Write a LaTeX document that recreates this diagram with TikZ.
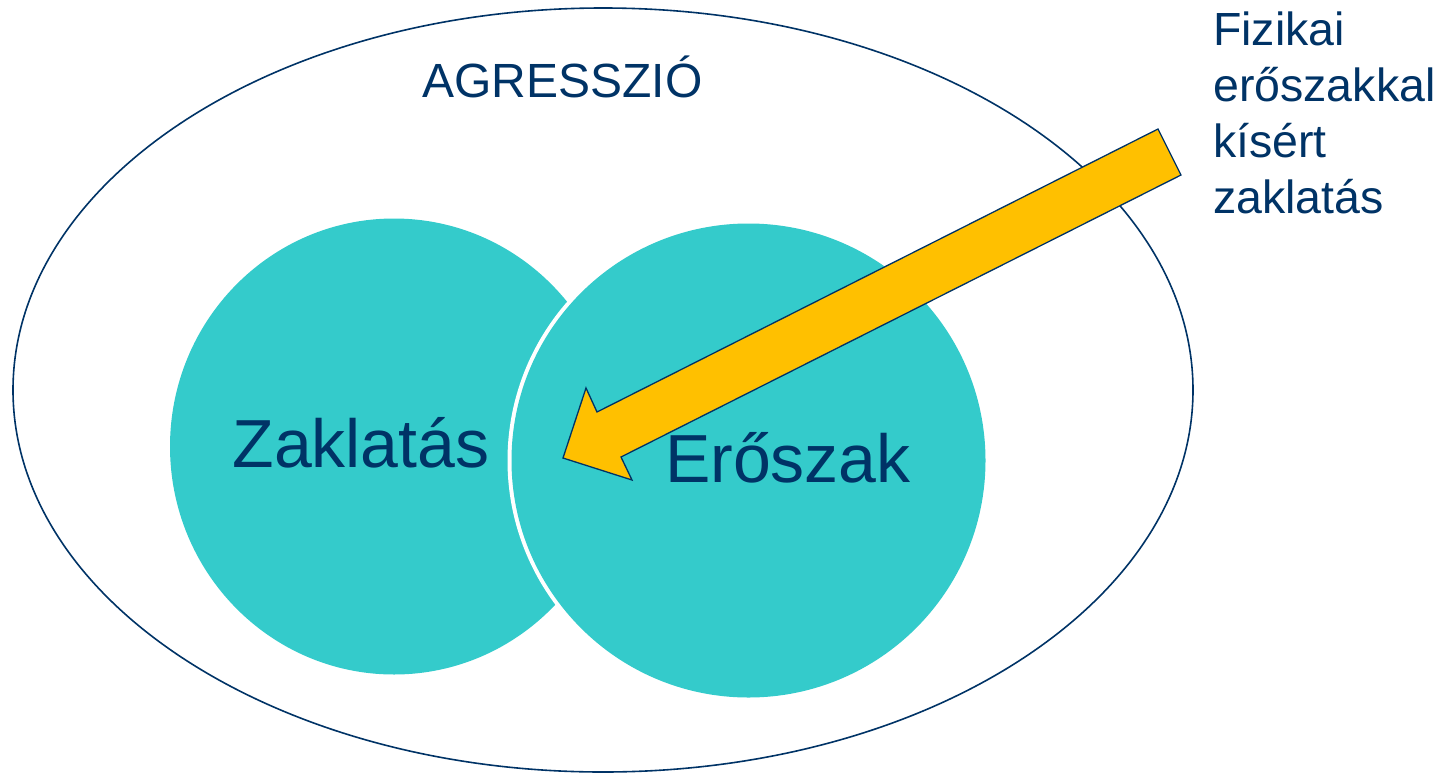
\documentclass[tikz,border=0pt]{standalone}
\usepackage{fontspec}
\setmainfont{Liberation Sans}
\definecolor{navy}{HTML}{003366}
\definecolor{tealc}{HTML}{34CBCB}
\definecolor{arrowy}{HTML}{FFC000}
\tikzset{
  lbl/.style={text=navy, inner sep=0pt, anchor=base},
  bigtxt/.style={lbl, font=\fontsize{68}{80}\selectfont},
}
\begin{document}
\begin{tikzpicture}[x=1pt,y=-1pt]
\useasboundingbox (0,0) rectangle (1454,774);
% outer ellipse
\draw[navy, line width=1.6pt] (603,390) ellipse [x radius=590, y radius=382];
% left circle
\fill[tealc] (394,446.5) ellipse [x radius=224, y radius=228];
% right circle with white ring
\fill[white] (748.5,460.5) circle [radius=241];
\fill[tealc] (748.5,460.5) circle [radius=237];
% labels
\node[lbl, font=\fontsize{48}{58}\selectfont] (agr) at (562.5,97) {AGRESSZIÓ};
\node[bigtxt] (zak) at (361,467) {Zaklatás};
% block arrow
\coordinate (tt) at (1158,129);
\coordinate (tb) at (1181,175);
\coordinate (sl) at (621,457);
\coordinate (hl) at (632,480);
\coordinate (tip) at (563,458);
\coordinate (hu) at (586,388);
\coordinate (su) at (597,412);
\draw[navy, fill=arrowy, line width=1.3pt, line join=miter] (tt) -- (tb) -- (sl) -- (hl) -- (tip) -- (hu) -- (su) -- cycle;
\node[bigtxt] (ero) at (788,482) {Erőszak};
% side text (base anchor = baseline of last line)
\node[lbl, anchor=base west, align=left, font=\fontsize{46.5}{55.7}\selectfont] (fiz) at (1213,213) {Fizikai\\erőszakkal\\kísért\\zaklatás};
\end{tikzpicture}
\end{document}
